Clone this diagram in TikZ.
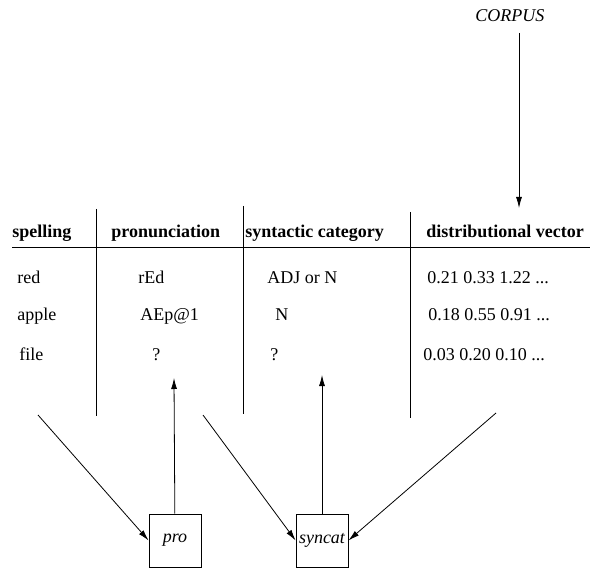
\documentclass[tikz,border=0pt]{standalone}
\usepackage{fontspec}
\setmainfont{Liberation Serif}
\usetikzlibrary{arrows.meta}

\begin{document}
\begin{tikzpicture}[ x=1pt , y=-1pt , line width=0.8pt , >={Latex[length=11pt,width=6pt]} ,
 cell/.style={ anchor=base west , inner sep=0pt , font=\fontsize{18}{21}\selectfont } ,
 head/.style={ cell , font=\fontsize{18}{21}\selectfont\bfseries } ,
 model/.style={ draw , minimum width=52pt , minimum height=53pt , inner sep=0pt , font=\fontsize{18}{21}\selectfont\itshape } ]
\useasboundingbox (0,0) rectangle (591,569);
% header row
\node [ head ] (h_spell) at (12,238) {spelling};
\node [ head ] (h_pron) at (111,238) {pronunciation};
\node [ head ] (h_syn) at (245,238) {syntactic category};
\node [ head ] (h_dist) at (426,238) {distributional vector};
\draw (12,247) -- (590,247);
\draw (96,209) -- (96,416);
\draw (243,206) -- (243,414);
\draw (410,212) -- (410,418);
% entries
\node [ cell ] (w_red) at (17,283) {red};
\node [ cell ] (w_apple) at (17,320) {apple};
\node [ cell ] (w_file) at (19,360) {file};
\node [ cell ] (p_red) at (138,283) {rEd};
\node [ cell ] (p_apple) at (140,320) {AEp@1};
\node [ cell ] (p_file) at (152,360) {?};
\node [ cell ] (s_red) at (267,283) {ADJ or N};
\node [ cell ] (s_apple) at (275,320) {N};
\node [ cell ] (s_file) at (270,360) {?};
\node [ cell ] (d_red) at (427,283) {0.21 0.33 1.22 ...};
\node [ cell ] (d_apple) at (428,320) {0.18 0.55 0.91 ...};
\node [ cell ] (d_file) at (423,360) {0.03 0.20 0.10 ...};
% corpus and models
\node [ cell , font=\fontsize{18}{21}\selectfont\itshape ] (corpus) at (475,22) {CORPUS};
\node [ model ] (pro) at (175,540.5) {pro};
\node [ model ] (syncat) at (322,540.5) {syncat};
\coordinate (corpus_out) at (519,33);
\coordinate (corpus_in) at (519,208);
\coordinate (spell_out) at (38,415);
\coordinate (pron_out) at (203,415);
\coordinate (dist_out) at (496,413);
\coordinate (pron_in) at (174,378);
\coordinate (syn_in) at (322,375);
\path [->]
(corpus_out) edge (corpus_in)
(spell_out) edge (pro.west)
(pro) edge (pron_in)
(pron_out) edge (syncat.west)
(dist_out) edge (syncat.east)
(syncat) edge (syn_in);
\end{tikzpicture}
\end{document}
